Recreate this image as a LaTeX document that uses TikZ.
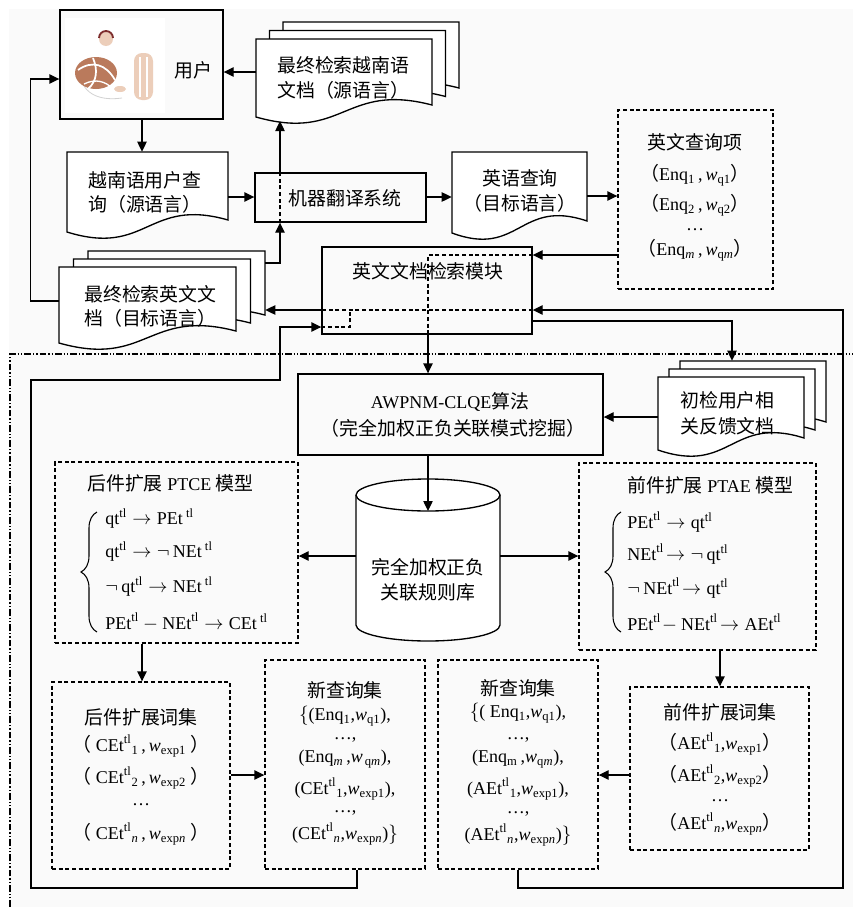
\documentclass[tikz,border=0pt]{standalone}
\usepackage{fontspec}
\setmainfont{Liberation Serif}
\newfontfamily\cjk[Scale=1.05]{Noto Sans CJK SC}
\usetikzlibrary{arrows.meta,fit,decorations.pathreplacing}
\newcommand\zh[1]{{\cjk #1}}
\newcommand\T{^{\mathrm{tl}}}
\newcommand\rr[1]{\mathrm{#1}}
\newcommand\wi{\mathit{w}}
\definecolor{bodybrown}{RGB}{186,122,92}
\definecolor{skin}{RGB}{236,206,186}
\definecolor{hair}{RGB}{125,45,45}
\definecolor{paper}{RGB}{250,250,250}

\tikzset{
  page/.style={draw, fill=white, line width=1pt},
  box/.style={draw, line width=1pt, inner sep=0pt},
  dbox/.style={draw, line width=1pt, dash pattern=on 3pt off 2pt, inner sep=0pt},
  area/.style={inner sep=0pt},
  arr/.style={line width=1pt, -{Triangle[length=7.5pt,width=7pt]}},
  ln/.style={line width=1pt},
  dl/.style={line width=1pt, dash pattern=on 3pt off 2pt},
  dd/.style={line width=0.8pt, dash pattern=on 5pt off 1.5pt on 1pt off 1.5pt on 1pt off 1.5pt},
  txt/.style={inner sep=0pt, font=\fontsize{13.5}{16}\selectfont},
  lt/.style={txt, anchor=west},
  dots/.style={txt, text height=2pt, text depth=1pt},
  brc/.style={decorate, decoration={brace, amplitude=12pt}, line width=0.8pt},
}

% document page with a wavy lower edge: left, top, right, lower-left y
\newcommand\docshape[4]{%
  \draw[page] (#1,#2) -- (#3,#2) -- (#3,#4-12)
    .. controls ({(#1+#3)/2},#4-35) and ({(#1+#3)/2},#4+25) .. (#1,#4) -- cycle;}
% three stacked pages shifted by dx, dy
\newcommand\docstack[6]{%
  \docshape{#1+2*#5}{#2-2*#6}{#3+2*#5}{#4-2*#6}%
  \docshape{#1+#5}{#2-#6}{#3+#5}{#4-#6}%
  \docshape{#1}{#2}{#3}{#4}}

\begin{document}
\begin{tikzpicture}[x=0.75pt, y=-0.75pt]
\useasboundingbox (0,0) rectangle (853,907);
\fill[white] (0,0) rectangle (853,907);
\fill[paper] (9,9) rectangle (853,907);

% ---------- frame of the expansion part
\draw[dd] (10,907) -- (10,354) -- (853,354);

% ---------- user
\node[box, fit={(60,10) (223,119)}] (user) {};
\fill[white] (65,18) rectangle (165,113);
\draw[gray!35, line width=0.6pt] (80,62) .. controls (76,90) and (95,102) .. (122,98);
\fill[skin, rounded corners=6pt] (134,53) rectangle (153,100);
\draw[white, line width=1.4pt] (140,57) -- (140,97) (147,57) -- (147,97);
\fill[bodybrown] (96,73) ellipse [x radius=21, y radius=16];
\draw[white, line width=1.3pt] (78,70) .. controls (92,60) and (106,64) .. (115,80);
\draw[white, line width=1.3pt] (93,58) .. controls (98,70) and (97,81) .. (88,89);
\draw[white, line width=1pt] (84,84) .. controls (96,78) and (106,82) .. (112,88);
\fill[skin] (106,39) circle [radius=7];
\draw[hair, line width=1.4pt] (99,38) arc [start angle=180, end angle=360, radius=7];
\fill[skin] (120,89) ellipse [x radius=6, y radius=3];
\node[txt] (userlbl) at (193,70) {\zh{用户}};

% ---------- documents
\docstack{256}{39}{432}{117}{13.5}{8.5}
\node[area, fit={(256,39) (432,117)}] (vdoc) {};
\node[lt] (vdoct1) at (277,65) {\zh{最终检索越南语}};
\node[lt] (vdoct2) at (277,90) {\zh{文档（源语言）}};

\docshape{67}{152}{228}{232}
\node[area, fit={(67,152) (228,232)}] (vq) {};
\node[lt] (vqt1) at (88,180) {\zh{越南语用户查}};
\node[lt] (vqt2) at (88,204) {\zh{询（源语言）}};

\docshape{452}{152}{587}{233}
\node[area, fit={(452,152) (587,233)}] (eq) {};
\node[txt] (eqt1) at (520,178) {\zh{英语查询}};
\node[txt] (eqt2) at (520,203) {\zh{（目标语言）}};

\docstack{59}{267}{236}{343}{14.5}{8}
\node[area, fit={(59,267) (236,343)}] (edoc) {};
\node[area, fit={(88,251) (265,327)}] (edocb) {};
\node[lt] (edoct1) at (84,294) {\zh{最终检索英文文}};
\node[lt] (edoct2) at (84,318) {\zh{档（目标语言）}};

\docstack{658}{377}{804}{450}{11}{8}
\node[area, fit={(658,377) (804,450)}] (fb) {};
\node[area, fit={(680,361) (826,434)}] (fbb) {};
\node[lt] (fbt1) at (680,400) {\zh{初检用户相}};
\node[lt] (fbt2) at (680,426) {\zh{关反馈文档}};

% ---------- process boxes
\node[box, fit={(255,173) (426,222)}] (mt) {};
\node[box, fit={(322,247) (532,334)}] (module) {};
\node[box, fit={(298,374) (603,455)}] (awp) {};

% ---------- dashed boxes
\node[dbox, fit={(618,110) (773,289)}] (terms) {};
\node[dbox, fit={(55,462) (298,643)}] (ptce) {};
\node[dbox, fit={(579,463) (816,650)}] (ptae) {};
\node[dbox, fit={(52,682) (230,869)}] (cexp) {};
\node[dbox, fit={(265,660) (425,869)}] (nq1) {};
\node[dbox, fit={(438,660) (598,869)}] (nq2) {};
\node[dbox, fit={(630,687) (809,850)}] (aexp) {};

% ---------- rule base cylinder
\draw[line width=1pt, fill=white] (356,495) -- (356,625)
  arc [start angle=180, end angle=0, x radius=72, y radius=16] -- (500,495);
\draw[line width=1pt, fill=white] (428,495) ellipse [x radius=72, y radius=16];
\node[area, fit={(356,479) (500,641)}] (db) {};
\coordinate (dbtop) at (428,511);
\coordinate (vdocbot) at (280,121);

% ---------- connectors
\draw[arr] (vdoc.west |- 0,72) -- (user.east |- 0,72);
\draw[arr] (user.south -| 142,0) -- (vq.north -| 142,0);
\draw[arr] (vq.east |- 0,197) -- (mt.west |- 0,197);
\draw[arr] (mt.east |- 0,197) -- (eq.west |- 0,197);
\draw[arr] (eq.east |- 0,196) -- (terms.west |- 0,196);

\draw[arr] (terms.west |- 0,255) -- (module.east |- 0,255);
\draw[dl] (module.east |- 0,255) -- (428,255) -- (module.south -| 428,0);
\draw[arr] (module.south -| 428,0) -- (awp.north -| 428,0);

\draw[arr] (edocb.east |- 0,263) -| (mt.south -| 280,0);
\draw[dl] (mt.south -| 280,0) -- (mt.north -| 280,0);
\draw[arr] (mt.north -| 280,0) -- (vdocbot);

\draw[arr] (edoc.west |- 0,301) -- ++(-28,0) |- (user.west |- 0,79);

\draw[arr] (nq2.south -| 518,0) -- (518,888) -| (843,310) -- (module.east |- 0,310);
\draw[dl] (module.east |- 0,310) -- (module.west |- 0,310);
\draw[arr] (module.west |- 0,310) -- (edocb.east |- 0,310);

\draw[arr] (nq1.south -| 357,0) -- (357,888) -| (31,380) -| (280,327) -- (module.west |- 0,327);
\draw[dl] (module.west |- 0,327) -| (350,310);

\draw[arr] (module.east |- 0,321) -| (fbb.north -| 732,0);
\draw[arr] (fb.west |- 0,417) -- (awp.east |- 0,417);
\draw[arr] (awp.south -| 428,0) -- (dbtop);
\draw[arr] (db.west |- 0,556) -- (ptce.east |- 0,556);
\draw[arr] (db.east |- 0,556) -- (ptae.west |- 0,556);
\draw[arr] (ptce.south -| 142,0) -- (cexp.north -| 142,0);
\draw[arr] (ptae.south -| 720,0) -- (aexp.north -| 720,0);
\draw[arr] (cexp.east |- 0,775) -- (nq1.west |- 0,775);
\draw[arr] (aexp.west |- 0,775) -- (nq2.east |- 0,775);

% ---------- labels of the boxes
\node[txt] (mtt) at (345,198) {\zh{机器翻译系统}};
\node[txt] (modt) at (428,271) {\zh{英文文档检索模块}};
\node[txt] (awpt1) at (450,402) {AWPNM-CLQE\zh{算法}};
\node[txt] (awpt2) at (453,428) {\zh{（完全加权正负关联模式挖掘）}};
\node[txt] (dbt1) at (428,567) {\zh{完全加权正负}};
\node[txt] (dbt2) at (428,592) {\zh{关联规则库}};

\node[txt] (tt0) at (695,142) {\zh{英文查询项}};
\node[txt] (tt1) at (695,175) {\zh{（}Enq$_{\rr{1}}$\,,\,$\wi_{\rr{q1}}$\zh{）}};
\node[txt] (tt2) at (695,205) {\zh{（}Enq$_{\rr{2}}$\,,\,$\wi_{\rr{q2}}$\zh{）}};
\node[dots] (tt3) at (695,230) {…};
\node[txt] (tt4) at (695,250) {\zh{（}Enq$_{\mathit{m}}$\,,\,$\wi_{\rr{q}\mathit{m}}$\zh{）}};

% consequent expansion model
\node[lt] (pct0) at (87,483) {\zh{后件扩展} PTCE \zh{模型}};
\draw[brc] (97,632) -- (97,512);
\node[lt] (pct1) at (105,519) {$\rr{qt}\T\rightarrow\rr{PEt}\,\T$};
\node[lt] (pct2) at (105,552) {$\rr{qt}\T\rightarrow\neg\,\rr{NEt}\,\T$};
\node[lt] (pct3) at (105,587) {$\neg\,\rr{qt}\T\rightarrow\rr{NEt}\,\T$};
\node[lt] (pct4) at (105,622) {$\rr{PEt}\T-\rr{NEt}\T\rightarrow\rr{CEt}\,\T$};

% antecedent expansion model
\node[lt] (pat0) at (627,485) {\zh{前件扩展} PTAE \zh{模型}};
\draw[brc] (621,632) -- (621,512);
\node[lt] (pat1) at (627,522) {$\rr{PEt}\T\rightarrow\rr{qt}\T$};
\node[lt] (pat2) at (627,554) {$\rr{NEt}\T\!\rightarrow\neg\,\rr{qt}\T$};
\node[lt] (pat3) at (627,588) {$\neg\,\rr{NEt}\T\!\rightarrow\rr{qt}\T$};
\node[lt] (pat4) at (627,623) {$\rr{PEt}\T\!-\rr{NEt}\T\!\rightarrow\rr{AEt}\T$};

% consequent expansion terms
\node[txt] (ce0) at (141,717) {\zh{后件扩展词集}};
\node[txt] (ce1) at (141,746) {\zh{（} $\rr{CEt}\T{}_{\rr{1}}$\,,\,$\wi_{\rr{exp1}}$ \zh{）}};
\node[txt] (ce2) at (141,778) {\zh{（} $\rr{CEt}\T{}_{\rr{2}}$\,,\,$\wi_{\rr{exp2}}$ \zh{）}};
\node[dots] (ce3) at (141,805) {…};
\node[txt] (ce4) at (141,834) {\zh{（} $\rr{CEt}\T{}_{\mathit{n}}$\,,\,$\wi_{\rr{exp}\mathit{n}}$ \zh{）}};

% first new query set
\node[txt] (na0) at (345,690) {\zh{新查询集}};
\node[txt] (na1) at (345,716) {$\{$(Enq$_{\rr{1}}$,$\wi_{\rr{q1}}$),};
\node[dots] (na2) at (345,739) {…,};
\node[txt] (na3) at (345,759) {(Enq$_{\mathit{m}}$\,,$\wi_{\,\rr{q}\mathit{m}}$),};
\node[txt] (na4) at (345,789) {($\rr{CEt}\T{}_{\rr{1}}$,$\wi_{\rr{exp1}}$),};
\node[dots] (na5) at (345,812) {…,};
\node[txt] (na6) at (345,834) {($\rr{CEt}\T{}_{\mathit{n}}$,$\wi_{\rr{exp}\mathit{n}}$)$\}$};

% second new query set
\node[txt] (nb0) at (518,688) {\zh{新查询集}};
\node[txt] (nb1) at (518,713) {$\{$( Enq$_{\rr{1}}$,$\wi_{\rr{q1}}$),};
\node[dots] (nb2) at (518,739) {…,};
\node[txt] (nb3) at (518,759) {(Enq$_{\rr{m}}$\,,$\wi_{\rr{q}\mathit{m}}$),};
\node[txt] (nb4) at (518,789) {($\rr{AEt}\T{}_{\rr{1}}$,$\wi_{\rr{exp1}}$),};
\node[dots] (nb5) at (518,813) {…,};
\node[txt] (nb6) at (518,835) {($\rr{AEt}\T{}_{\mathit{n}}$,$\wi_{\rr{exp}\mathit{n}}$)$\}$};

% antecedent expansion terms
\node[txt] (ae0) at (720,712) {\zh{前件扩展词集}};
\node[txt] (ae1) at (720,744) {\zh{（}$\rr{AEt}\T{}_{\rr{1}}$,$\wi_{\rr{exp1}}$\zh{）}};
\node[txt] (ae2) at (720,776) {\zh{（}$\rr{AEt}\T{}_{\rr{2}}$,$\wi_{\rr{exp2}}$\zh{）}};
\node[dots] (ae3) at (720,801) {…};
\node[txt] (ae4) at (720,824) {\zh{（}$\rr{AEt}\T{}_{\mathit{n}}$,$\wi_{\rr{exp}\mathit{n}}$\zh{）}};
\end{tikzpicture}
\end{document}
